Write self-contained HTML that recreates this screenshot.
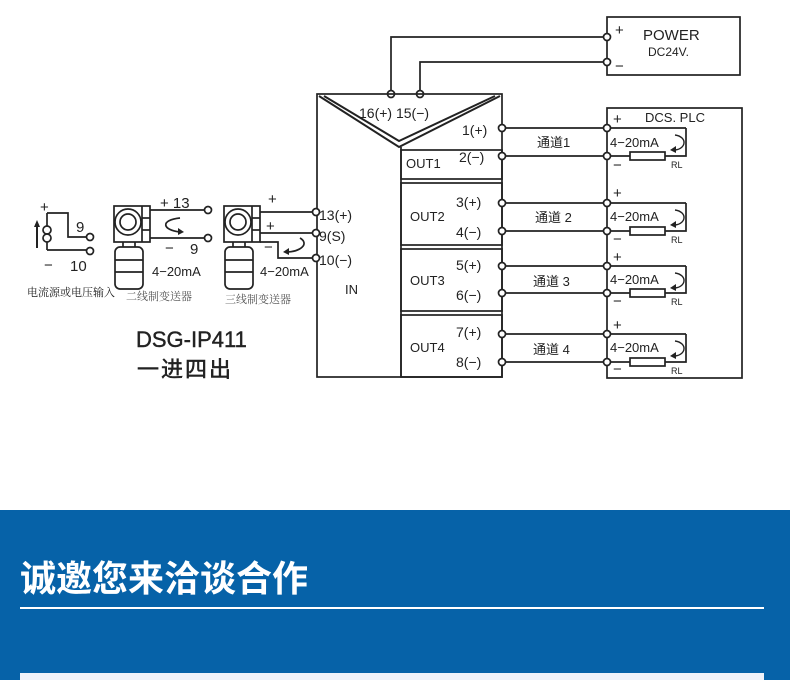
<!DOCTYPE html>
<html><head><meta charset="utf-8"><style>
html,body{margin:0;padding:0;background:#fff;width:790px;height:680px;overflow:hidden}
svg{position:absolute;left:0;top:0}
.band{position:absolute;left:0;top:510px;width:790px;height:170px;background:#0662a8}
.title{position:absolute;left:20px;top:552px;font:bold 36px "Noto Sans CJK SC","WenQuanYi Zen Hei",sans-serif;color:#fff;letter-spacing:0px;line-height:48px}
.line{position:absolute;left:20px;top:607px;width:744px;height:2px;background:#fff}
.box{position:absolute;left:20px;top:673px;width:744px;height:7px;background:#eef2fa}
</style></head><body>
<svg width="790" height="510" viewBox="0 0 790 510" font-family="Liberation Sans, Noto Sans CJK SC, sans-serif" fill="none" stroke="#222" stroke-width="1.7">
<rect x="607" y="17" width="133" height="58"/>
<polyline points="391,94 391,37 607,37"/>
<polyline points="420,94 420,62 607,62"/>
<g fill="#fff"><circle cx="391" cy="94" r="3.5"/><circle cx="420" cy="94" r="3.5"/><circle cx="607" cy="37" r="3.5"/><circle cx="607" cy="62" r="3.5"/></g>
<g fill="#222" stroke="none" font-size="13">
<text x="615" y="35" font-size="15">+</text><text x="615" y="71" font-size="15">−</text>
<text x="643" y="40" font-size="15">POWER</text><text x="648" y="56" font-size="12">DC24V.</text>
</g>
<rect x="317" y="94" width="185" height="283"/>
<polyline points="319,96 399,147 500,96" stroke-width="2"/>
<polyline points="324,96 399,141 495,96" stroke-width="2"/>
<line x1="401" y1="147" x2="401" y2="377"/>
<rect x="401" y="150" width="101" height="29"/>
<rect x="401" y="183" width="101" height="62"/>
<rect x="401" y="249" width="101" height="62"/>
<rect x="401" y="315" width="101" height="62"/>
<rect x="607" y="108" width="135" height="270"/>
<g>
<line x1="502" y1="128" x2="686" y2="128"/><polyline points="686,128 686,156 665,156"/><line x1="502" y1="156" x2="630" y2="156"/><rect x="630" y="152" width="35" height="8"/>
<line x1="502" y1="203" x2="686" y2="203"/><polyline points="686,203 686,231 665,231"/><line x1="502" y1="231" x2="630" y2="231"/><rect x="630" y="227" width="35" height="8"/>
<line x1="502" y1="266" x2="686" y2="266"/><polyline points="686,266 686,293 665,293"/><line x1="502" y1="293" x2="630" y2="293"/><rect x="630" y="289" width="35" height="8"/>
<line x1="502" y1="334" x2="686" y2="334"/><polyline points="686,334 686,362 665,362"/><line x1="502" y1="362" x2="630" y2="362"/><rect x="630" y="358" width="35" height="8"/>
</g>
<g fill="#fff">
<circle cx="502" cy="128" r="3.5"/><circle cx="502" cy="156" r="3.5"/><circle cx="502" cy="203" r="3.5"/><circle cx="502" cy="231" r="3.5"/><circle cx="502" cy="266" r="3.5"/><circle cx="502" cy="293" r="3.5"/><circle cx="502" cy="334" r="3.5"/><circle cx="502" cy="362" r="3.5"/>
<circle cx="607" cy="128" r="3.5"/><circle cx="607" cy="156" r="3.5"/><circle cx="607" cy="203" r="3.5"/><circle cx="607" cy="231" r="3.5"/><circle cx="607" cy="266" r="3.5"/><circle cx="607" cy="293" r="3.5"/><circle cx="607" cy="334" r="3.5"/><circle cx="607" cy="362" r="3.5"/>
</g>
<g stroke-width="1.4">
<path d="M675,135 C688,137 686,149 675,150"/><path d="M675,210 C688,212 686,224 675,225"/><path d="M675,273 C688,275 686,287 675,288"/><path d="M675,341 C688,343 686,355 675,356"/>
</g>
<g fill="#222" stroke="none">
<path d="M670,150 l6,-4 l0,7z"/><path d="M670,225 l6,-4 l0,7z"/><path d="M670,288 l6,-4 l0,7z"/><path d="M670,356 l6,-4 l0,7z"/>
</g>
<g fill="#222" stroke="none" font-size="14">
<text x="359" y="118">16(+) 15(−)</text>
<text x="462" y="135">1(+)</text><text x="459" y="162">2(−)</text><text x="406" y="168" font-size="13">OUT1</text>
<text x="456" y="207">3(+)</text><text x="456" y="237">4(−)</text><text x="410" y="221" font-size="13">OUT2</text>
<text x="456" y="270">5(+)</text><text x="456" y="300">6(−)</text><text x="410" y="285" font-size="13">OUT3</text>
<text x="456" y="337">7(+)</text><text x="456" y="367">8(−)</text><text x="410" y="352" font-size="13">OUT4</text>
<text x="537" y="147" font-size="13">通道1</text><text x="535" y="222" font-size="13">通道 2</text><text x="533" y="286" font-size="13">通道 3</text><text x="533" y="354" font-size="13">通道 4</text>
<text x="645" y="122" font-size="13">DCS. PLC</text>
<g font-size="13"><text x="610" y="147">4−20mA</text><text x="610" y="221">4−20mA</text><text x="610" y="284">4−20mA</text><text x="610" y="352">4−20mA</text></g>
<g font-size="9"><text x="671" y="168">RL</text><text x="671" y="243">RL</text><text x="671" y="305">RL</text><text x="671" y="374">RL</text></g>
<g font-size="15"><text x="613" y="124">+</text><text x="613" y="198">+</text><text x="613" y="262">+</text><text x="613" y="330">+</text>
<text x="613" y="170">−</text><text x="613" y="244">−</text><text x="613" y="306">−</text><text x="613" y="374">−</text></g>
<text x="319" y="220">13(+)</text><text x="319" y="241">9(S)</text><text x="319" y="265">10(−)</text>
<text x="345" y="294" font-size="13">IN</text>
</g>
<line x1="316" y1="212" x2="260" y2="212"/><line x1="316" y1="233" x2="260" y2="233"/>
<polyline points="260,242 278,242 278,258 316,258"/>
<g fill="#fff"><circle cx="316" cy="212" r="3.5"/><circle cx="316" cy="233" r="3.5"/><circle cx="316" cy="258" r="3.5"/></g>
<path d="M300,238 C310,244 300,252 286,252"/><path fill="#222" stroke="none" d="M283,252 l6,-4 l0,7z"/>
<g id="tx">
<rect x="114" y="206" width="36" height="36"/><line x1="142" y1="206" x2="142" y2="242"/><line x1="142" y1="218" x2="150" y2="218"/><line x1="142" y1="230" x2="150" y2="230"/>
<circle cx="128" cy="222" r="13"/><circle cx="128" cy="222" r="8"/>
<line x1="123" y1="242" x2="123" y2="247"/><line x1="135" y1="242" x2="135" y2="247"/>
<rect x="115" y="247" width="28" height="42" rx="5"/><line x1="115" y1="260" x2="143" y2="260"/><line x1="115" y1="272" x2="143" y2="272"/>
</g>
<use href="#tx" x="110"/>
<line x1="150" y1="210" x2="205" y2="210"/><line x1="150" y1="238" x2="205" y2="238"/>
<g fill="#fff"><circle cx="208" cy="210" r="3.5"/><circle cx="208" cy="238" r="3.5"/></g>
<path d="M180,218 C160,220 162,230 180,232"/><path fill="#222" stroke="none" d="M184,232 l-6,-4 l0,7z"/>
<line x1="47" y1="213" x2="47" y2="250"/>
<g fill="#fff"><circle cx="47" cy="230" r="4"/><circle cx="47" cy="238" r="4"/></g>
<polyline points="47,213 68,213 68,237 87,237"/><line x1="47" y1="250" x2="87" y2="250"/>
<g fill="#fff"><circle cx="90" cy="237" r="3.5"/><circle cx="90" cy="251" r="3.5"/></g>
<line x1="37" y1="248" x2="37" y2="226" stroke-width="2"/><path fill="#222" stroke="none" d="M37,220 l-3,7 l6,0z"/>
<g fill="#222" stroke="none" font-size="15">
<text x="40" y="212">+</text><text x="76" y="232">9</text><text x="44" y="270">−</text><text x="70" y="271">10</text>
<text x="160" y="208">+ 13</text><text x="165" y="253">−</text><text x="190" y="254">9</text>
<text x="268" y="204">+</text><text x="266" y="231">+</text><text x="264" y="252">−</text>
<text x="152" y="276" font-size="13">4−20mA</text><text x="260" y="276" font-size="13">4−20mA</text>
<g font-family="Liberation Serif, Noto Serif CJK SC, serif" font-size="11"><text x="27" y="296">电流源或电压输入</text><text x="126" y="300" fill="#555">二线制变送器</text><text x="225" y="303" fill="#555">三线制变送器</text></g>
<text x="136" y="347" font-size="22" stroke="#222" stroke-width="0.4">DSG-IP411</text>
<text x="137" y="377" font-size="22" letter-spacing="2" stroke="#222" stroke-width="0.5">一进四出</text>
</g>
</svg>
<div class="band"></div>
<div class="title">诚邀您来洽谈合作</div>
<div class="line"></div>
<div class="box"></div>
</body></html>
